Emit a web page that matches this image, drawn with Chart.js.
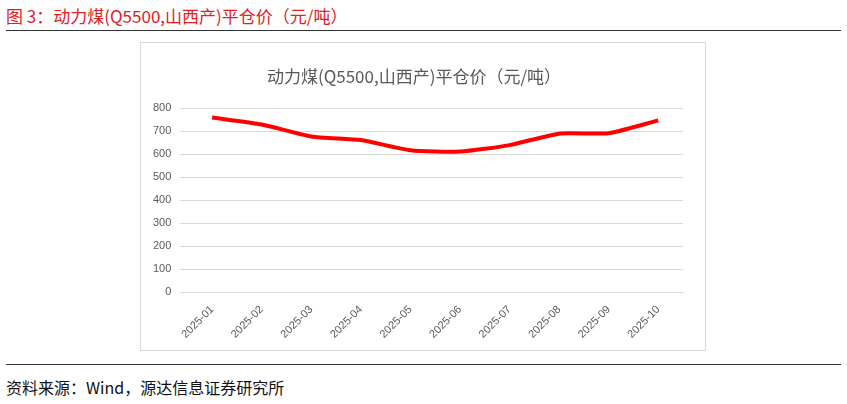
<!DOCTYPE html>
<html><head><meta charset="utf-8">
<script src="https://cdn.jsdelivr.net/npm/chart.js@4"></script>
<style>
body{margin:0;width:847px;height:404px;background:#fff;position:relative;font-family:"Noto Sans CJK SC","Noto Sans",sans-serif;overflow:hidden}
#hdr{position:absolute;left:6px;top:3px;font-size:17px;color:#e0201e}
#l1{position:absolute;left:6px;right:6px;top:30px;border-top:1px solid #333}
#l2{position:absolute;left:6px;right:6px;top:364px;border-top:1px solid #333}
#src{position:absolute;left:6px;top:375px;font-size:16px;color:#111}
#box{position:absolute;left:140px;top:42px;width:564px;height:307px;border:1px solid #d9d9d9}
</style></head><body>
<div id="hdr">图 3：动力煤(Q5500,山西产)平仓价（元/吨）</div>
<div id="l1"></div>
<div id="box"><canvas id="c" width="564" height="307"></canvas></div>
<div id="l2"></div>
<div id="src">资料来源：Wind，源达信息证券研究所</div>
<script>
const categories=["2025-01","2025-02","2025-03","2025-04","2025-05","2025-06","2025-07","2025-08","2025-09","2025-10"];
const prices=[760,730,678,662,618,612,640,690,692,748];
const yTicks=[0,100,200,300,400,500,600,700,800];
new Chart(document.getElementById('c'),{type:'line',
data:{labels:categories,datasets:[{data:prices,borderColor:'#ff0000',borderWidth:4,pointRadius:0,tension:0.2,fill:false}]},
options:{responsive:false,animation:false,
layout:{padding:{left:4,right:22,top:7,bottom:6}},
plugins:{legend:{display:false},tooltip:{enabled:false},
title:{display:true,text:'动力煤(Q5500,山西产)平仓价（元/吨）',color:'#595959',font:{size:17,family:'"Noto Sans CJK SC"',weight:'normal'},padding:{top:16,bottom:22}}},
scales:{x:{offset:true,grid:{display:false},border:{color:'#d9d9d9'},ticks:{color:'#595959',font:{size:11},maxRotation:45,minRotation:45}},
y:{min:0,max:800,afterBuildTicks:a=>{a.ticks=yTicks.map(v=>({value:v}))},grid:{color:'#d9d9d9'},border:{display:false},ticks:{color:'#595959',font:{size:11},padding:8}}}}});
</script></body></html>
